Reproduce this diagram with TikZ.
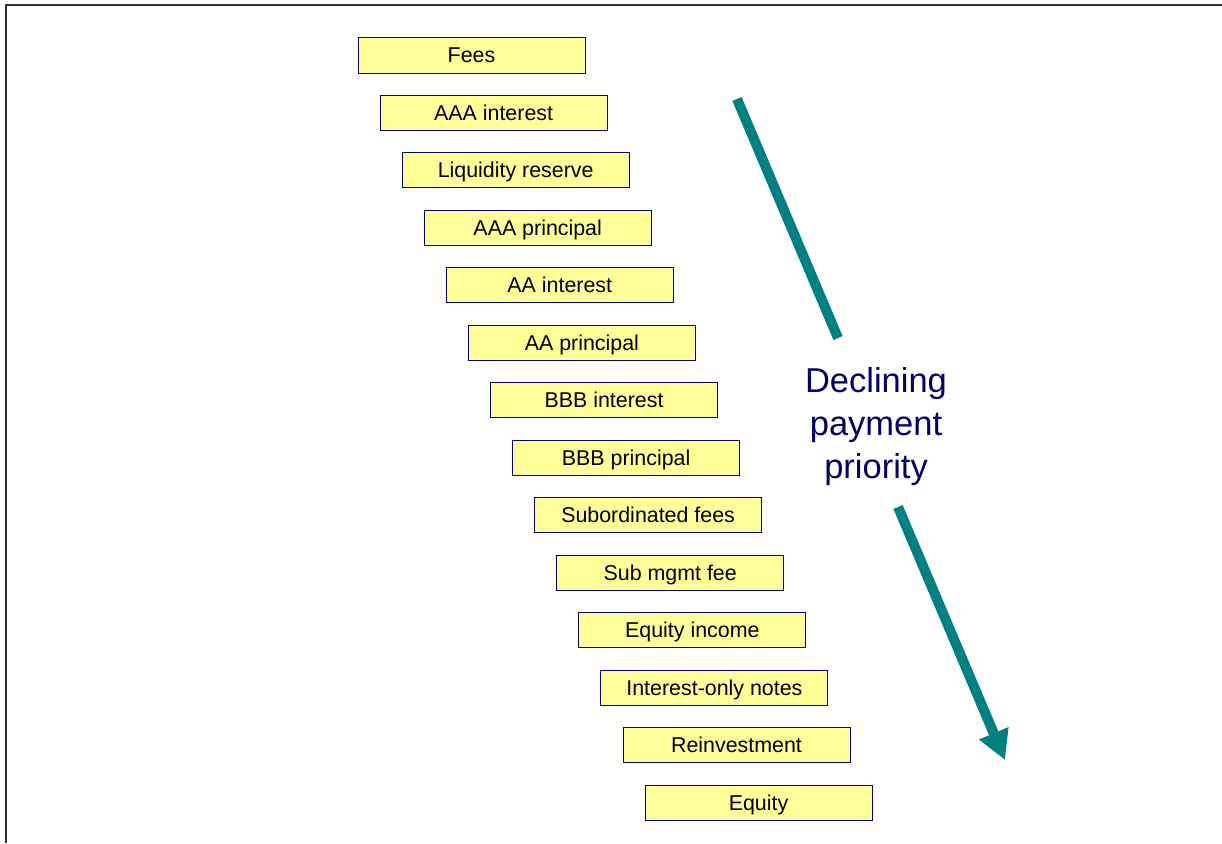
\documentclass[tikz,border=0pt]{standalone}
\usepackage{fontspec}
\setmainfont{Liberation Sans}
\usetikzlibrary{arrows.meta}

\definecolor{boxfill}{RGB}{255,255,153}
\definecolor{boxline}{RGB}{0,0,128}
\definecolor{prionavy}{RGB}{0,0,102}
\definecolor{prioteal}{RGB}{0,128,128}
\definecolor{framegray}{RGB}{51,51,51}

\tikzset{
    tranche/.style={draw=boxline, fill=boxfill, line width=1pt, minimum width=227pt,
        minimum height=35pt, inner sep=0pt, text height=15pt, text depth=0pt,
        font=\fontsize{21.4}{25}\selectfont},
    prio/.style={draw=prioteal, line width=10pt}
}

\begin{document}
\begin{tikzpicture}[x=1pt, y=-1pt]
    \useasboundingbox (0,0) rectangle (1222,843);
    % Frame
    \draw[framegray, line width=1.5pt] (6,843) -- (6,5) -- (1222,5);

    % Define the nodes
    \node[tranche] (fees) at (471.5, 55.5) {Fees};
    \node[tranche] (aaaint) at (493.6, 113.0) {AAA interest};
    \node[tranche] (liqres) at (515.7, 170.4) {Liquidity reserve};
    \node[tranche] (aaaprin) at (537.7, 227.9) {AAA principal};
    \node[tranche] (aaint) at (559.8, 285.3) {AA interest};
    \node[tranche] (aaprin) at (581.9, 342.8) {AA principal};
    \node[tranche] (bbbint) at (604.0, 400.3) {BBB interest};
    \node[tranche] (bbbprin) at (626.1, 457.7) {BBB principal};
    \node[tranche] (subfees) at (648.1, 515.2) {Subordinated fees};
    \node[tranche] (submgmt) at (670.2, 572.6) {Sub mgmt fee};
    \node[tranche] (eqinc) at (692.3, 630.1) {Equity income};
    \node[tranche] (ionotes) at (714.4, 687.6) {Interest-only notes};
    \node[tranche] (reinv) at (736.5, 745.0) {Reinvestment};
    \node[tranche] (equity) at (758.5, 802.5) {Equity};

    \node[text=prionavy, align=center, font=\fontsize{34.5}{43}\selectfont] (priority) at (876, 427)
        {Declining\\payment\\priority};

    % Priority arrow
    \coordinate (arrtop) at (737, 99);
    \coordinate (gaptop) at (838, 338);
    \coordinate (gapbot) at (898, 507);
    \coordinate (arrtip) at (1005, 760);
    \draw[prio] (arrtop) -- (gaptop);
    \draw[prio, -{Triangle[length=29pt, width=30pt]}] (gapbot) -- (arrtip);
\end{tikzpicture}
\end{document}
